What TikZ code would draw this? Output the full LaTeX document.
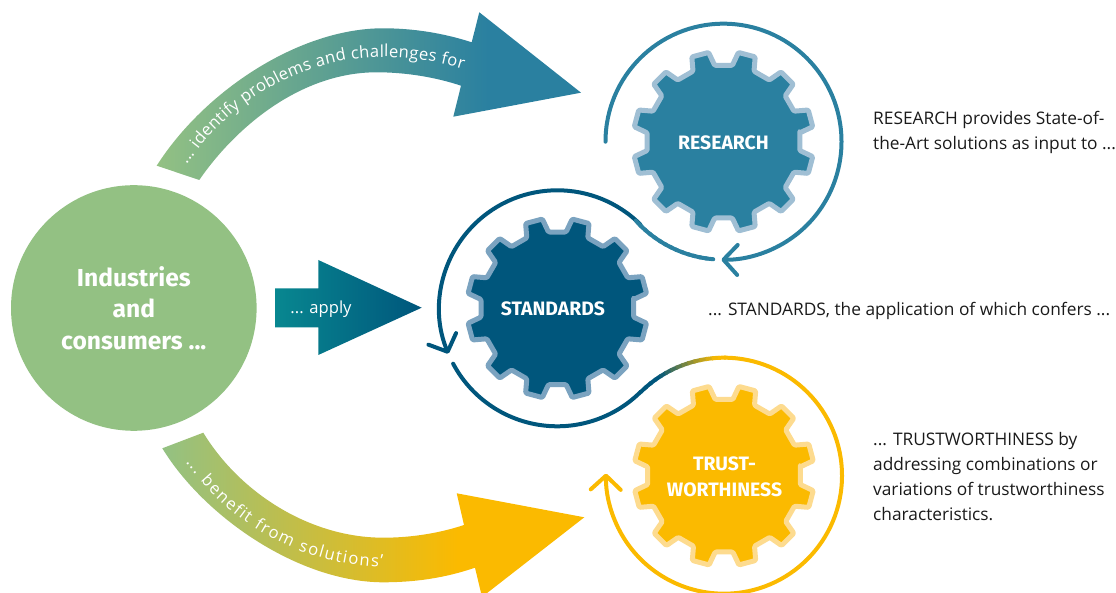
\documentclass[tikz,border=0pt]{standalone}
\usepackage{fontspec}
\setmainfont{Open Sans}
\newfontfamily\headfont{Fira Sans}
\usetikzlibrary{calc}
\usetikzlibrary{arrows.meta}
\usetikzlibrary{decorations.text}

\definecolor{leafgreen}{HTML}{93C183}
\definecolor{researchblue}{HTML}{2A80A0}
\definecolor{researchedge}{HTML}{A0BFD4}
\definecolor{standardsblue}{HTML}{00567C}
\definecolor{standardsedge}{HTML}{7BA3C0}
\definecolor{trustyellow}{HTML}{FBBA00}
\definecolor{trustedge}{HTML}{FDDB8F}
\definecolor{applyteal}{HTML}{088790}
\definecolor{bodytext}{HTML}{1A1A1A}

\pgfdeclarehorizontalshading{identifyshade}{100bp}{color(0bp)=(leafgreen); color(25bp)=(leafgreen); color(64bp)=(researchblue); color(100bp)=(researchblue)}
\pgfdeclarehorizontalshading{benefitshade}{100bp}{color(0bp)=(leafgreen); color(25bp)=(leafgreen); color(60bp)=(trustyellow); color(100bp)=(trustyellow)}

\tikzset{
  gearlabel/.style={text=white,font=\headfont\bfseries\fontsize{19.4}{26}\selectfont,align=center},
  bodylabel/.style={text=bodytext,font=\fontsize{17.3}{25}\selectfont,align=left,anchor=west,inner sep=0pt},
  ringline/.style={line width=4pt,line cap=round},
  barbtip/.style={-{Straight Barb[length=14pt,width=30pt,line width=4pt,round]}}
}

% one cog: centre, fill, rim
\newcommand{\drawgear}[3]{
  \begin{scope}[shift={(#1)}]
    \draw[fill=#2,draw=#3,line width=5pt,line join=round,rounded corners=1.2pt]
      (6.6:76.8) \foreach \a in {15,45,...,345}{
        -- (\a-8.4:76.8) -- (\a-5.5:90.5) -- (\a+5.5:90.5) -- (\a+8.4:76.8)
      } -- cycle;
  \end{scope}
}

\begin{document}
\begin{tikzpicture}[x=1pt,y=1pt]
\useasboundingbox (0,0) rectangle (1116,593);
\clip (0,0) rectangle (1116,593);

\coordinate (research) at (723.5,451.3);
\coordinate (standards) at (557.3,284.7);
\coordinate (trust) at (724,117.3);

\node[circle,fill=leafgreen,minimum size=245.6pt,inner sep=0pt,text=white,align=center,
  font=\headfont\bfseries\fontsize{24.6}{31.5}\selectfont](industries) at (133.8,285){Industries\\and\\consumers ...};

% big arrows
\shade[shading=identifyshade]
  (156.7,427.3) .. controls (205,503) and (300,564.7) .. (383,564.7)
  .. controls (413,564.7) and (443,560) .. (471.7,550.7)
  -- (479.3,580.7) -- (581,500.3) -- (453.3,476.3) -- (461,507.3)
  .. controls (435,516) and (405,520.7) .. (376.7,520.7)
  .. controls (300,520.7) and (235,465) .. (199.3,413) -- cycle;
\path[decorate,decoration={text along path,text align=fit to path,
  text={|\fontsize{16.6}{16.6}\selectfont\color{white}|... identify problems and challenges for}}]
  (187,428) .. controls (225,488) and (300,536) .. (383,536) .. controls (410,536) and (437,532) .. (463,524);

\shade[left color=applyteal,right color=standardsblue]
  (275,304.7) -- (318.3,304.7) -- (318.3,333) -- (421.7,285.3) -- (318.3,238) -- (318.3,265.7) -- (275,265.7) -- cycle;
\node[text=white,font=\fontsize{16.6}{16.6}\selectfont](applylabel) at (321,284){... apply};

\shade[shading=benefitshade]
  (203.3,160.3) .. controls (240,100) and (310,55.3) .. (383.3,55.3)
  .. controls (412,55.3) and (440,60) .. (464,68)
  -- (456.7,99.7) -- (584.3,75.7) -- (482,-4) -- (475,25.3)
  .. controls (445,15) and (415,10.7) .. (383.3,10.7)
  .. controls (300,10.7) and (205,75) .. (162.3,144.7) -- cycle;
\path[decorate,decoration={text along path,text align=fit to path,
  text={|\fontsize{16.6}{16.6}\selectfont\color{white}|... benefit from solutions'}}]
  (186,131) .. controls (225,73) and (300,27) .. (383,26);

% cogs
\drawgear{research}{researchblue}{researchedge}
\drawgear{standards}{standardsblue}{standardsedge}
\drawgear{trust}{trustyellow}{trustedge}
\node[gearlabel](researchlabel) at (723.5,450.5){RESEARCH};
\node[gearlabel](standardslabel) at (553,284){STANDARDS};
\node[gearlabel](trustlabel) at (724.5,116.5){TRUST-\\WORTHINESS};

% rings
\draw[ringline,researchblue,barbtip] ([shift={(180:118)}]research) arc[start angle=180,end angle=-91,radius=118];

\draw[line width=4pt,standardsblue,barbtip] ([shift={(45:118)}]standards) arc[start angle=45,end angle=202.6,radius=118];
\foreach \a in {-95,-98,...,-134}{
  \pgfmathsetmacro\mixpart{min(100,(\a+95)/-25*100)}
  \draw[line width=4pt,line cap=round,standardsblue!\mixpart!researchblue] ([shift={(\a:118)}]research) arc[start angle=\a,delta angle=-4,radius=118];
}

\draw[ringline,standardsblue] ([shift={(208:118)}]standards) arc[start angle=208,end angle=315,radius=118];
\foreach \a in {135,132,...,93}{
  \pgfmathsetmacro\mixpart{max(0,min(100,(\a-95)/30*100))}
  \draw[line width=4pt,standardsblue!\mixpart!trustyellow] ([shift={(\a:118)}]trust) arc[start angle=\a,delta angle=-4,radius=118];
}
\draw[line width=4pt,trustyellow,barbtip] ([shift={(90:118)}]trust) arc[start angle=90,end angle=-181,radius=118];

% side texts
\node[bodylabel](researchtext) at (873,460.5){RESEARCH provides State-of-\\the-Art solutions as input to ...};
\node[bodylabel](standardstext) at (708,282.5){... STANDARDS, the application of which confers ...};
\node[bodylabel](trusttext) at (873,116.5){... TRUSTWORTHINESS by\\addressing combinations or\\variations of trustworthiness\\characteristics.};

\end{tikzpicture}
\end{document}
